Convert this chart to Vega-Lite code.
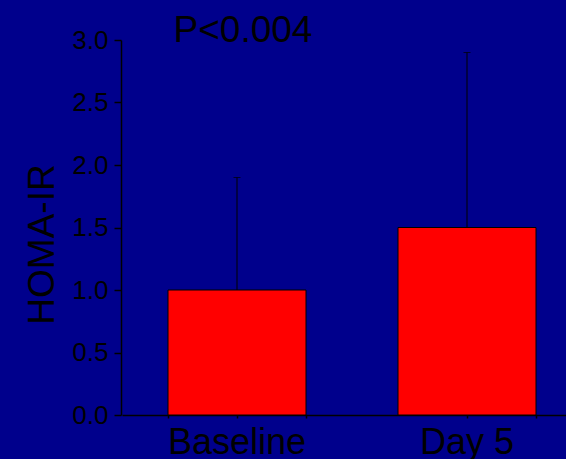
{
  "$schema": "https://vega.github.io/schema/vega-lite/v6.json",
  "width": 445,
  "height": 375,
  "autosize": {"type": "none"},
  "padding": {"left": 121, "top": 40, "right": 0, "bottom": 44},
  "background": "#00008c",
  "config": {"view": {"stroke": null}, "font": "Liberation Sans"},
  "data": {
    "values": [
      {"group": "Baseline", "mean": 1.0, "upper": 1.9},
      {"group": "Day 5", "mean": 1.5, "upper": 2.9}
    ]
  },
  "resolve": {"axis": {"x": "independent"}},
  "layer": [
    {
      "mark": {"type": "bar", "fill": "red", "stroke": "black", "strokeWidth": 1},
      "encoding": {
        "x": {
          "field": "group",
          "type": "nominal",
          "sort": null,
          "scale": {"range": [1, 461], "paddingInner": 0.4, "paddingOuter": 0.2},
          "axis": {
            "orient": "bottom",
            "title": null,
            "labelAngle": 0,
            "labelFontSize": 36,
            "labelColor": "black",
            "labelBaseline": "alphabetic",
            "tickSize": 3,
            "tickWidth": 1.5,
            "labelPadding": 35,
            "domainColor": "black",
            "domainWidth": 1.5,
            "tickColor": "black",
            "grid": false
          }
        },
        "y": {
          "field": "mean",
          "type": "quantitative",
          "scale": {"domain": [0, 3], "nice": false},
          "axis": {
            "title": "HOMA-IR",
            "values": [0, 0.5, 1, 1.5, 2, 2.5, 3],
            "format": ".1f",
            "labelFontSize": 26,
            "labelColor": "black",
            "tickColor": "black",
            "tickWidth": 1.5,
            "domainColor": "black",
            "domainWidth": 1.5,
            "tickSize": 7,
            "labelPadding": 6,
            "grid": false,
            "titleFontSize": 37,
            "titleColor": "black",
            "titleFontWeight": "normal",
            "titleX": -68,
            "titleY": 204,
            "titleAlign": "center",
            "titleBaseline": "alphabetic",
            "titleAngle": -90
          }
        }
      }
    },
    {
      "mark": {"type": "rule", "color": "black", "strokeWidth": 1},
      "encoding": {
        "x": {
          "field": "group",
          "type": "nominal",
          "sort": null,
          "axis": {
            "orient": "bottom",
            "title": null,
            "labels": false,
            "domain": false,
            "tickBand": "extent",
            "tickSize": 3,
            "tickWidth": 1.5,
            "tickColor": "black",
            "grid": false
          }
        },
        "y": {"field": "mean", "type": "quantitative"},
        "y2": {"field": "upper"}
      }
    },
    {
      "mark": {"type": "tick", "color": "black", "thickness": 1, "size": 7, "orient": "horizontal"},
      "encoding": {
        "x": {"field": "group", "type": "nominal", "sort": null, "axis": null},
        "y": {"field": "upper", "type": "quantitative"}
      }
    },
    {
      "data": {"values": [{"label": "P<0.004", "group": "Baseline", "level": 3}]},
      "mark": {
        "type": "text",
        "fontSize": 37,
        "color": "black",
        "align": "center",
        "baseline": "alphabetic",
        "dx": 6,
        "dy": 2
      },
      "encoding": {
        "x": {"field": "group", "type": "nominal", "sort": null, "axis": null},
        "y": {"field": "level", "type": "quantitative"},
        "text": {"field": "label"}
      }
    }
  ]
}
